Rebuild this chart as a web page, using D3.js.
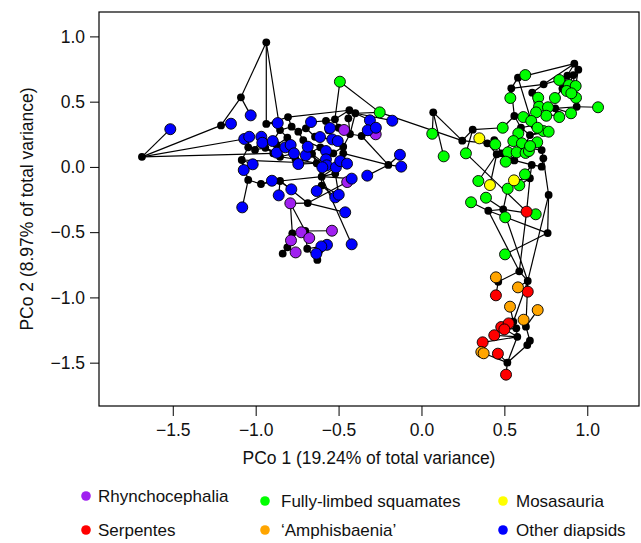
<!DOCTYPE html>
<meta charset="utf-8">
<head>
<script src="https://d3js.org/d3.v7.min.js"></script>
<style>
  body { margin: 0; background: #fff; }
  text { font-family: "Liberation Sans", Arial, sans-serif; fill: #111; }
</style>
</head>
<body>
<div id="chart"></div>
<script>
// tip scores by group (PCo 1, PCo 2)
var rhyncho = [[-0.467,0.283],[-0.276,0.250],[-0.448,-0.116],[-0.791,-0.279],[-0.540,-0.489],
  [-0.725,-0.501],[-0.677,-0.545],[-0.787,-0.563],[-0.759,-0.655]];
var fully = [[-0.492,0.653],[-0.252,0.418],[0.065,0.254],[0.134,0.081],[0.268,0.104],[0.490,0.300],
  [0.626,0.704],[0.536,0.528],[0.704,0.530],[0.709,0.461],[0.763,0.457],[0.805,0.528],[0.831,0.666],
  [0.890,0.628],[0.876,0.582],[0.930,0.620],[0.932,0.530],[0.904,0.564],[1.065,0.457],[0.902,0.411],
  [0.831,0.382],[0.753,0.392],[0.691,0.418],[0.614,0.382],[0.662,0.352],[0.584,0.257],[0.554,0.198],
  [0.606,0.181],[0.445,0.173],[0.735,0.275],[0.767,0.270],[0.698,0.189],[0.522,0.112],[0.574,0.112],
  [0.628,0.107],[0.648,0.122],[0.508,0.040],[0.343,-0.108],[0.520,-0.167],[0.590,-0.141],[0.624,-0.057],
  [0.389,-0.236],[0.299,-0.271],[0.505,-0.386],[0.689,-0.363],[0.504,-0.670],[0.655,0.160],[0.700,0.300]];
var mosa = [[0.349,0.219],[0.413,-0.139],[0.558,-0.103]];
var serp = [[0.634,-0.343],[0.641,-0.956],[0.449,-0.984],[0.481,-1.227],[0.526,-1.199],[0.439,-1.290],
  [0.369,-1.344],[0.461,-1.431],[0.510,-1.592],[0.500,-1.245]];
var amphis = [[0.449,-0.846],[0.582,-0.923],[0.534,-1.071],[0.701,-1.097],[0.616,-1.171],[0.361,-1.418],[0.375,-1.428]];
var other = [[-1.515,0.289],[-1.149,0.331],[-1.030,0.395],[-1.069,0.214],[-1.039,0.231],[-0.966,0.231],
  [-0.960,0.185],[-0.897,0.198],[-0.867,0.336],[-0.873,0.109],[-0.821,0.150],[-0.789,0.168],[-0.769,0.104],
  [-1.018,0.020],[-1.072,-0.024],[-0.902,-0.106],[-0.785,-0.172],[-0.861,-0.218],[-1.081,-0.310],
  [-0.743,0.022],[-0.698,0.089],[-0.666,0.344],[-0.612,0.229],[-0.552,0.298],[-0.538,0.211],[-0.505,0.198],
  [-0.686,0.155],[-0.576,0.122],[-0.576,0.058],[-0.572,0.012],[-0.598,-0.003],[-0.516,-0.003],[-0.490,0.045],
  [-0.449,0.025],[-0.632,-0.185],[-0.520,-0.233],[-0.499,-0.213],[-0.460,-0.348],[-0.421,-0.593],
  [-0.570,-0.597],[-0.604,-0.609],[-0.634,-0.665],[-0.421,-0.090],[-0.327,-0.067],[-0.311,0.357],
  [-0.324,0.281],[-0.176,0.354],[-0.130,0.093],[-0.122,0.002],[-0.275,0.300]];

// internal (ancestral) nodes
var nodes = [[-1.686,0.077],[-1.209,0.318],[-1.089,0.533],[-0.936,0.955],[-0.936,0.329],[-0.805,0.382],
  [-0.435,0.434],[-0.399,0.411],[-0.576,0.352],[-0.522,0.365],[-0.783,0.308],[-0.697,0.296],[-0.743,0.270],
  [-0.853,0.282],[-0.809,0.224],[-0.713,0.206],[-0.632,0.028],[-0.472,0.155],[-0.361,0.237],[-0.431,0.252],
  [-1.045,0.150],[-1.084,0.053],[-1.004,0.130],[-1.045,-0.100],[-0.968,-0.131],[-0.853,-0.108],
  [-0.686,-0.277],[-0.602,-0.075],[-0.602,-0.143],[-0.779,-0.509],[-0.809,-0.616],[-0.837,-0.665],
  [-0.689,-0.627],[-0.628,-0.713],[-0.701,-0.491],[-0.200,0.015],[-0.942,0.147],[-0.853,0.078],
  [-0.472,0.104],[-0.532,0.104],[-0.642,0.231],[-0.894,0.104],[-0.560,0.280],[-0.610,0.150],
  [-0.660,0.100],[-0.500,0.300],[-0.873,0.168],[-0.441,0.372],[-0.760,0.060],[-0.520,-0.050],
  [0.071,0.418],[0.246,0.201],[0.309,0.285],[0.397,0.181],[0.439,0.206],[0.454,0.097],[0.484,0.104],
  [0.582,0.684],[0.542,0.602],[0.737,0.633],[0.668,0.569],[0.922,0.791],[0.946,0.745],[0.916,0.704],
  [0.936,0.461],[0.560,0.390],[0.654,0.244],[0.725,0.129],[0.735,0.066],[0.665,0.015],[0.654,-0.087],
  [0.725,0.002],[0.767,-0.215],[0.807,0.449],[0.825,0.398],[0.403,-0.336],[0.493,-0.325],[0.761,-0.507],
  [0.590,-0.800],[0.641,-0.874],[0.463,-0.880],[0.554,-1.186],[0.572,-1.237],[0.630,-1.224],[0.578,-1.302],
  [0.654,-1.332],[0.638,-1.365],[0.518,-1.500],[0.620,0.150],[0.600,0.300],[0.680,0.320],[0.560,0.050],
  [0.850,0.600],[0.880,0.700]];

// tree branches
var edges = [
  ["n0","O0"],["n0","n1"],["n0","O3"],["n0","n41"],["n1","n2"],["n1","O1"],["n2","n3"],["n2","O2"],
  ["n3","n4"],["n3","n13"],["n4","n5"],["n4","O8"],["n5","n6"],["n5","n10"],["n6","n7"],["n6","n9"],
  ["n6","n47"],["F0","n9"],["F0","F1"],["n7","F1"],["n7","n19"],["n7","O44"],["n7","O46"],
  ["n8","n9"],["n8","O21"],["n8","n42"],["n9","n45"],["n10","n13"],["n10","n12"],["n11","n12"],
  ["n11","O21"],["n11","n40"],["n12","n15"],["n13","O7"],["n13","n14"],["n14","O10"],["n14","O11"],
  ["n14","n46"],["n15","O26"],["n15","n43"],["n16","O19"],["n16","n44"],["n16","n27"],["n16","n21"],
  ["n17","n19"],["n17","O25"],["n17","n38"],["n17","n39"],["n18","n19"],["n18","O45"],["n18","R1"],
  ["n18","n35"],["n18","O49"],["n19","R0"],["n35","O47"],["n35","O48"],["n35","n38"],["n35","O43"],
  ["n38","O32"],["n38","O33"],["n39","O27"],["n39","O28"],["n40","O22"],["n40","O24"],["n42","n45"],
  ["n45","O23"],["n43","O27"],["n43","O20"],["n44","O29"],["n44","O30"],["n20","O4"],["n20","n22"],
  ["n20","n21"],["n21","O14"],["n21","n23"],["n21","O13"],["n22","O5"],["n22","O6"],["n22","n36"],
  ["n23","O18"],["n23","n24"],["n24","n25"],["n24","O15"],["n25","O17"],["n25","O16"],["n25","n26"],
  ["n25","n27"],["n26","R3"],["R3","n29"],["R3","n34"],["n26","R2"],["n26","O37"],["n27","n28"],
  ["n27","O31"],["n27","O42"],["n27","O38"],["n27","n49"],["n49","O36"],["n28","O34"],["n28","O35"],
  ["n28","O36"],["n29","R5"],["n29","R7"],["n29","n30"],["n30","n31"],["n30","R8"],["n34","R6"],
  ["n34","R4"],["n34","n32"],["n32","n33"],["n32","O40"],["n33","O41"],["n33","O39"],["n36","O9"],
  ["n36","n37"],["n36","n41"],["n37","O12"],["n37","n48"],["n47","n19"],["n48","O19"],["n48","n16"],
  ["F1","n51"],["n50","n51"],["n50","F2"],["n50","F3"],["n51","n52"],["n51","n53"],["n52","F4"],
  ["n52","F5"],["F4","S0"],["n53","M0"],["n53","n54"],["n53","n55"],["n54","F28"],["n54","n56"],
  ["n55","F37"],["n55","M1"],["n56","F36"],["n56","n91"],["n56","F26"],["n91","F32"],["n91","F33"],
  ["n91","n69"],["n57","F6"],["n57","n61"],["n57","F24"],["n57","n58"],["n58","F7"],["n58","n59"],
  ["n58","n65"],["n59","n61"],["n59","F12"],["n59","n60"],["n60","F8"],["n60","F9"],["n60","F22"],
  ["n61","n62"],["n62","n63"],["n63","F13"],["n62","F15"],["n61","n93"],["n93","n92"],["n92","F14"],
  ["n92","F17"],["n92","F11"],["n63","n64"],["n64","F18"],["n64","F16"],["n64","n73"],["n73","F10"],
  ["n73","F19"],["n73","n74"],["n74","F20"],["n74","F21"],["n65","F23"],["n65","F5"],["n65","n89"],
  ["n89","F25"],["n89","n66"],["n89","n90"],["n66","F29"],["n66","F30"],["n66","n88"],["n90","F47"],
  ["n88","F27"],["n88","F34"],["n88","F35"],["n88","F46"],["n88","n67"],["n67","F31"],["n67","n68"],
  ["n68","n71"],["n68","n72"],["n71","n69"],["n69","F40"],["n69","n70"],["n70","M2"],["n70","F39"],
  ["n70","S0"],["n72","n77"],["n72","n79"],["n75","n76"],["n75","F42"],["n75","n77"],["n75","n78"],
  ["n76","F43"],["n76","F38"],["n76","F41"],["n76","F44"],["n76","n79"],["n77","F45"],["S0","n78"],
  ["n78","n80"],["n78","n79"],["n80","A0"],["n80","S2"],["n79","A1"],["n79","S1"],["n79","n81"],
  ["n79","n83"],["n81","A2"],["n81","S4"],["n81","n82"],["n82","S9"],["n82","n84"],["n83","A4"],
  ["n83","A3"],["n83","n85"],["n84","S3"],["n84","S5"],["n84","S6"],["n84","n87"],["n85","n86"],
  ["n87","S7"],["n87","S8"],["n87","n86"],["n87","A6"],["S6","A5"]
];

var xTicks = [-1.5, -1.0, -0.5, 0.0, 0.5, 1.0];
var yTicks = [-1.5, -1.0, -0.5, 0.0, 0.5, 1.0];

var groups = [
  {key: "R", label: "Rhynchocephalia", pts: rhyncho, color: "#a020f0"},
  {key: "F", label: "Fully-limbed squamates", pts: fully, color: "#00ff00"},
  {key: "M", label: "Mosasauria", pts: mosa, color: "#ffff00"},
  {key: "S", label: "Serpentes", pts: serp, color: "#ff0000"},
  {key: "A", label: "\u2018Amphisbaenia\u2019", pts: amphis, color: "#ffa500"},
  {key: "O", label: "Other diapsids", pts: other, color: "#0000ff"}
];

var w = 641, h = 543;
var box = {left: 99, right: 639, top: 12, bottom: 406};

var svg = d3.select("#chart").append("svg").attr("width", w).attr("height", h);

var x = d3.scaleLinear().domain([-1.945, 1.312]).range([box.left, box.right]);
var y = d3.scaleLinear().domain([-1.832, 1.187]).range([box.bottom, box.top]);

// lookup of every point by key
var lookup = {};
nodes.forEach(function (d, i) { lookup["n" + i] = d; });
groups.forEach(function (g) {
  g.pts.forEach(function (d, i) { lookup[g.key + i] = d; });
});

var fmt = function (v) { return d3.format(".1f")(v).replace("-", "\u2212"); };

// axes
svg.append("g")
  .attr("transform", "translate(0," + box.bottom + ")")
  .call(d3.axisBottom(x).tickValues(xTicks).tickSize(10).tickPadding(8).tickFormat(fmt))
  .call(function (g) {
    g.select(".domain").remove();
    g.selectAll("text").style("font-size", "17.5px").attr("fill", "#111");
  });

svg.append("g")
  .attr("transform", "translate(" + box.left + ",0)")
  .call(d3.axisLeft(y).tickValues(yTicks).tickSize(9).tickPadding(5).tickFormat(fmt))
  .call(function (g) {
    g.select(".domain").remove();
    g.selectAll("text").style("font-size", "17.5px").attr("fill", "#111");
  });

svg.append("rect")
  .attr("x", box.left).attr("y", box.top)
  .attr("width", box.right - box.left).attr("height", box.bottom - box.top)
  .attr("fill", "none").attr("stroke", "#000").attr("stroke-width", 1.2);

svg.append("text")
  .attr("x", (box.left + box.right) / 2).attr("y", 464)
  .attr("text-anchor", "middle").style("font-size", "17.5px")
  .text("PCo 1 (19.24% of total variance)");

svg.append("text")
  .attr("transform", "translate(33," + (box.top + box.bottom) / 2 + ") rotate(-90)")
  .attr("text-anchor", "middle").style("font-size", "17.5px")
  .text("PCo 2 (8.97% of total variance)");

// branches
svg.append("g").selectAll("line")
  .data(edges)
  .enter().append("line")
  .attr("x1", function (d) { return x(lookup[d[0]][0]); })
  .attr("y1", function (d) { return y(lookup[d[0]][1]); })
  .attr("x2", function (d) { return x(lookup[d[1]][0]); })
  .attr("y2", function (d) { return y(lookup[d[1]][1]); })
  .attr("stroke", "#000").attr("stroke-width", 1.2);

// ancestral nodes
svg.append("g").selectAll("circle")
  .data(nodes)
  .enter().append("circle")
  .attr("cx", function (d) { return x(d[0]); })
  .attr("cy", function (d) { return y(d[1]); })
  .attr("r", 3.9)
  .attr("fill", "#000");

// tips
groups.forEach(function (g) {
  svg.append("g").selectAll("circle")
    .data(g.pts)
    .enter().append("circle")
    .attr("cx", function (d) { return x(d[0]); })
    .attr("cy", function (d) { return y(d[1]); })
    .attr("r", 5.5)
    .attr("fill", g.color)
    .attr("stroke", "#000").attr("stroke-width", 0.9);
});

// legend
var legendCols = [86, 265, 503];
var legendTextDx = [12, 16, 13];
var legendRows = [[496, 501, 501], [530, 530, 530]];
var legend = svg.append("g");
groups.forEach(function (g, i) {
  var row = Math.floor(i / 3), col = i % 3;
  var cy = legendRows[row][col];
  legend.append("circle").attr("cx", legendCols[col]).attr("cy", cy).attr("r", 4.8).attr("fill", g.color);
  legend.append("text").attr("x", legendCols[col] + legendTextDx[col]).attr("y", cy)
    .attr("dy", "0.36em").style("font-size", "17px").text(g.label);
});
</script>
</body>
</html>
